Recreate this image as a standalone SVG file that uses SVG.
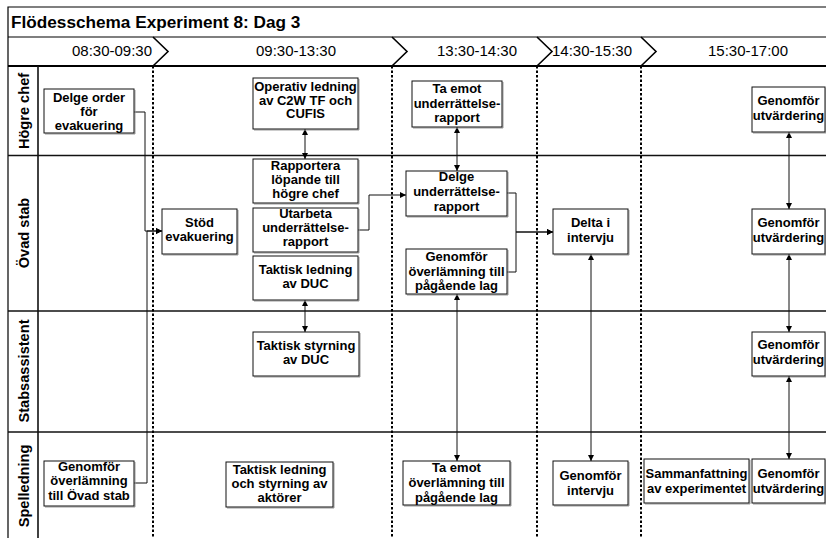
<svg xmlns="http://www.w3.org/2000/svg" width="826" height="538" viewBox="0 0 826 538">
  <defs>
    <style>
      .frame { fill: none; stroke: #000; stroke-width: 1.2; }
      .lane { fill: none; stroke: #111; stroke-width: 1.6; }
      .dot { fill: none; stroke: #000; stroke-width: 2; stroke-dasharray: 2.5 2; }
      .chev { fill: none; stroke: #000; stroke-width: 1.6; }
      .box { fill: #fff; stroke: #111; stroke-width: 1; }
      .sh { fill: none; stroke: #9a9a9a; stroke-width: 1; }
      .t { font-family: "Liberation Sans", Arial, sans-serif; font-size: 13px; font-weight: bold; fill: #000; text-anchor: middle; }
      .title { font-family: "Liberation Sans", Arial, sans-serif; font-size: 17.2px; font-weight: bold; fill: #000; }
      .time { font-family: "Liberation Sans", Arial, sans-serif; font-size: 15px; fill: #000; text-anchor: middle; }
      .lanelbl { font-family: "Liberation Sans", Arial, sans-serif; font-size: 14.6px; font-weight: bold; fill: #000; text-anchor: middle; }
      .c { fill: none; stroke: #111; stroke-width: 1; }
    </style>
    <marker id="ah" viewBox="0 0 10 10" refX="10" refY="5" markerWidth="6" markerHeight="6" markerUnits="userSpaceOnUse" orient="auto-start-reverse">
      <path d="M0,0 L10,5 L0,10 z" fill="#000"/>
    </marker>
  </defs>

  <rect width="826" height="538" fill="#fff"/>

  <!-- frame, title and time header -->
  <g id="frame">
    <path class="frame" d="M8,538 V7 H826"/>
    <line class="frame" x1="8" y1="37" x2="826" y2="37"/>
    <line x1="8" y1="66" x2="826" y2="66" stroke="#000" stroke-width="2"/>
    <text class="title" x="11" y="27.5">Flödesschema Experiment 8: Dag 3</text>
    <polyline class="chev" points="153,37 168,51.5 153,66"/>
    <polyline class="chev" points="392,37 407,51.5 392,66"/>
    <polyline class="chev" points="537,37 552,51.5 537,66"/>
    <polyline class="chev" points="641,37 656,51.5 641,66"/>
    <text class="time" x="112" y="55.5">08:30-09:30</text>
    <text class="time" x="296" y="55.5">09:30-13:30</text>
    <text class="time" x="477" y="55.5">13:30-14:30</text>
    <text class="time" x="592" y="55.5">14:30-15:30</text>
    <text class="time" x="748" y="55.5">15:30-17:00</text>
  </g>

  <!-- swimlanes -->
  <g id="lanes">
    <line class="lane" x1="38" y1="66" x2="38" y2="538"/>
    <line class="lane" x1="8" y1="155.5" x2="826" y2="155.5"/>
    <line class="lane" x1="8" y1="311" x2="826" y2="311"/>
    <line class="lane" x1="8" y1="432" x2="826" y2="432"/>
    <text class="lanelbl" transform="translate(28.5,111) rotate(-90)">Högre chef</text>
    <text class="lanelbl" transform="translate(28.5,233) rotate(-90)">Övad stab</text>
    <text class="lanelbl" transform="translate(28.5,371) rotate(-90)">Stabsassistent</text>
    <text class="lanelbl" transform="translate(28.5,486) rotate(-90)">Spelledning</text>
  </g>

  <!-- time boundaries -->
  <g id="boundaries">
    <line class="dot" x1="153" y1="66" x2="153" y2="538"/>
    <line class="dot" x1="392" y1="66" x2="392" y2="538"/>
    <line class="dot" x1="537" y1="66" x2="537" y2="538"/>
    <line class="dot" x1="641" y1="66" x2="641" y2="538"/>
  </g>

  <!-- connectors -->
  <g id="connectors">
    <polyline class="c" points="134,112 145,112 145,231 162,231" marker-end="url(#ah)"/>
    <polyline class="c" points="134,483 147,483 147,231 162,231" marker-end="url(#ah)"/>
    <line class="c" x1="305" y1="129" x2="305" y2="159" marker-start="url(#ah)" marker-end="url(#ah)"/>
    <line class="c" x1="305" y1="300" x2="305" y2="332" marker-start="url(#ah)" marker-end="url(#ah)"/>
    <polyline class="c" points="358,230 369,230 369,195 406,195" marker-end="url(#ah)"/>
    <line class="c" x1="457" y1="127" x2="457" y2="171" marker-start="url(#ah)" marker-end="url(#ah)"/>
    <polyline class="c" points="507,193 516,193 516,232 553,232" marker-end="url(#ah)"/>
    <polyline class="c" points="507,272 516,272 516,232 553,232" marker-end="url(#ah)"/>
    <line class="c" x1="457" y1="294" x2="457" y2="461" marker-start="url(#ah)" marker-end="url(#ah)"/>
    <line class="c" x1="591" y1="254" x2="591" y2="461" marker-start="url(#ah)" marker-end="url(#ah)"/>
    <line class="c" x1="789" y1="132" x2="789" y2="209" marker-start="url(#ah)" marker-end="url(#ah)"/>
    <line class="c" x1="789" y1="254" x2="789" y2="332" marker-start="url(#ah)" marker-end="url(#ah)"/>
    <line class="c" x1="789" y1="376" x2="789" y2="459" marker-start="url(#ah)" marker-end="url(#ah)"/>
  </g>

  <!-- activity nodes -->
  <g id="delge-order">
    <polyline class="sh" points="135,90 135,134 45,134"/>
    <rect class="box" x="44" y="89" width="90" height="44"/>
    <text class="t" x="89" y="101.5">Delge order</text>
    <text class="t" x="89" y="115.5">för</text>
    <text class="t" x="89" y="129.5">evakuering</text>
  </g>
  <g id="stod-evakuering">
    <polyline class="sh" points="238,210 238,255 163,255"/>
    <rect class="box" x="162" y="209" width="75" height="45"/>
    <text class="t" x="199.5" y="227">Stöd</text>
    <text class="t" x="199.5" y="241">evakuering</text>
  </g>
  <g id="operativ-ledning">
    <polyline class="sh" points="359,79 359,130 254,130"/>
    <rect class="box" x="253" y="78" width="105" height="51"/>
    <text class="t" x="305.5" y="91">Operativ ledning</text>
    <text class="t" x="305.5" y="104.5">av C2W TF och</text>
    <text class="t" x="305.5" y="118">CUFIS</text>
  </g>
  <g id="rapportera">
    <polyline class="sh" points="359,160 359,204 254,204"/>
    <rect class="box" x="253" y="159" width="105" height="44"/>
    <text class="t" x="305.5" y="170">Rapportera</text>
    <text class="t" x="305.5" y="184">löpande till</text>
    <text class="t" x="305.5" y="198">högre chef</text>
  </g>
  <g id="utarbeta">
    <polyline class="sh" points="359,209 359,253 254,253"/>
    <rect class="box" x="253" y="208" width="105" height="44"/>
    <text class="t" x="305.5" y="217.5">Utarbeta</text>
    <text class="t" x="305.5" y="231.5">underrättelse-</text>
    <text class="t" x="305.5" y="245.5">rapport</text>
  </g>
  <g id="taktisk-ledning-duc">
    <polyline class="sh" points="359,257 359,301 254,301"/>
    <rect class="box" x="253" y="256" width="105" height="44"/>
    <text class="t" x="305.5" y="274">Taktisk ledning</text>
    <text class="t" x="305.5" y="288">av DUC</text>
  </g>
  <g id="taktisk-styrning-duc">
    <polyline class="sh" points="360,333 360,377 254,377"/>
    <rect class="box" x="253" y="332" width="106" height="44"/>
    <text class="t" x="306" y="349.5">Taktisk styrning</text>
    <text class="t" x="306" y="363.5">av DUC</text>
  </g>
  <g id="taktisk-ledning-aktorer">
    <polyline class="sh" points="334,463 334,508 227,508"/>
    <rect class="box" x="226" y="462" width="107" height="45"/>
    <text class="t" x="279.5" y="474">Taktisk ledning</text>
    <text class="t" x="279.5" y="488">och styrning av</text>
    <text class="t" x="279.5" y="502">aktörer</text>
  </g>
  <g id="overlamning-ovad-stab">
    <polyline class="sh" points="135,462 135,507 45,507"/>
    <rect class="box" x="44" y="461" width="90" height="45"/>
    <text class="t" x="89" y="471">Genomför</text>
    <text class="t" x="89" y="485">överlämning</text>
    <text class="t" x="89" y="499.5">till Övad stab</text>
  </g>
  <g id="ta-emot-rapport">
    <polyline class="sh" points="503,82 503,128 413,128"/>
    <rect class="box" x="412" y="81" width="90" height="46"/>
    <text class="t" x="457" y="93">Ta emot</text>
    <text class="t" x="457" y="107.5">underrättelse-</text>
    <text class="t" x="457" y="122">rapport</text>
  </g>
  <g id="delge-rapport">
    <polyline class="sh" points="508,172 508,217 407,217"/>
    <rect class="box" x="406" y="171" width="101" height="45"/>
    <text class="t" x="456.5" y="181">Delge</text>
    <text class="t" x="456.5" y="196">underrättelse-</text>
    <text class="t" x="456.5" y="211">rapport</text>
  </g>
  <g id="overlamning-pagaende">
    <polyline class="sh" points="508,250 508,295 407,295"/>
    <rect class="box" x="406" y="249" width="101" height="45"/>
    <text class="t" x="456.5" y="261">Genomför</text>
    <text class="t" x="456.5" y="275.5">överlämning till</text>
    <text class="t" x="456.5" y="290">pågående lag</text>
  </g>
  <g id="delta-intervju">
    <polyline class="sh" points="629,210 629,255 554,255"/>
    <rect class="box" x="553" y="209" width="75" height="45"/>
    <text class="t" x="590.5" y="227">Delta i</text>
    <text class="t" x="590.5" y="242">intervju</text>
  </g>
  <g id="ta-emot-overlamning">
    <polyline class="sh" points="511,462 511,506 404,506"/>
    <rect class="box" x="403" y="461" width="107" height="44"/>
    <text class="t" x="456.5" y="472">Ta emot</text>
    <text class="t" x="456.5" y="487">överlämning till</text>
    <text class="t" x="456.5" y="502">pågående lag</text>
  </g>
  <g id="genomfor-intervju">
    <polyline class="sh" points="629,462 629,506 554,506"/>
    <rect class="box" x="553" y="461" width="75" height="44"/>
    <text class="t" x="590.5" y="480">Genomför</text>
    <text class="t" x="590.5" y="494.5">intervju</text>
  </g>
  <g id="sammanfattning">
    <polyline class="sh" points="750,460 750,504 645,504"/>
    <rect class="box" x="644" y="459" width="105" height="44"/>
    <text class="t" x="696.5" y="477.5">Sammanfattning</text>
    <text class="t" x="696.5" y="492.5">av experimentet</text>
  </g>
  <g id="utvardering-hogre">
    <polyline class="sh" points="826,88 826,133 753,133"/>
    <rect class="box" x="752" y="87" width="73" height="45"/>
    <text class="t" x="788.5" y="105">Genomför</text>
    <text class="t" x="788.5" y="120">utvärdering</text>
  </g>
  <g id="utvardering-ovad">
    <polyline class="sh" points="826,210 826,255 753,255"/>
    <rect class="box" x="752" y="209" width="73" height="45"/>
    <text class="t" x="788.5" y="227">Genomför</text>
    <text class="t" x="788.5" y="242">utvärdering</text>
  </g>
  <g id="utvardering-stabsass">
    <polyline class="sh" points="826,333 826,377 753,377"/>
    <rect class="box" x="752" y="332" width="73" height="44"/>
    <text class="t" x="788.5" y="349">Genomför</text>
    <text class="t" x="788.5" y="364">utvärdering</text>
  </g>
  <g id="utvardering-spel">
    <polyline class="sh" points="826,460 826,504 753,504"/>
    <rect class="box" x="752" y="459" width="73" height="44"/>
    <text class="t" x="788.5" y="477.5">Genomför</text>
    <text class="t" x="788.5" y="492.5">utvärdering</text>
  </g>
</svg>
